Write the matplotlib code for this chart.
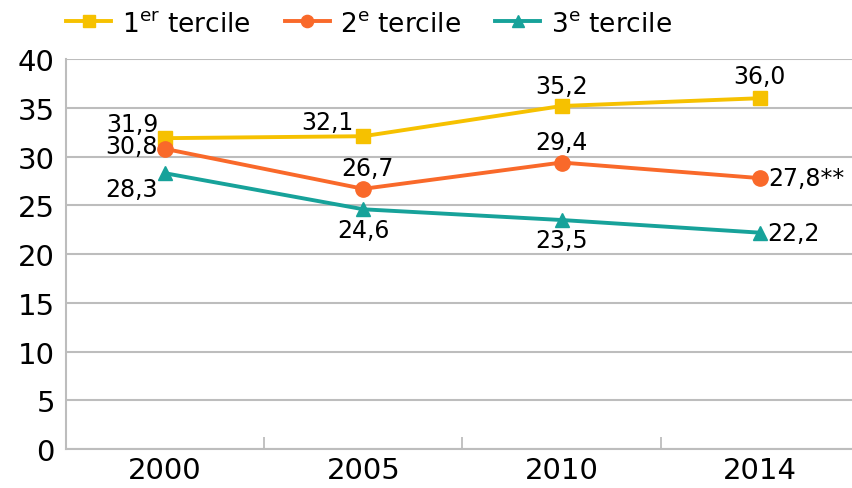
import matplotlib
matplotlib.use("Agg")
import matplotlib.pyplot as plt
from matplotlib.ticker import FixedLocator

plt.rcParams['font.family'] = ['DejaVu Sans']

years = ['2000', '2005', '2010', '2014']
tercile1 = [31.9, 32.1, 35.2, 36.0]
tercile2 = [30.8, 26.7, 29.4, 27.8]
tercile3 = [28.3, 24.6, 23.5, 22.2]
labels1 = ['31,9', '32,1', '35,2', '36,0']
labels2 = ['30,8', '26,7', '29,4', '27,8**']
labels3 = ['28,3', '24,6', '23,5', '22,2']

yellow = '#F6C100'
orange = '#F9692A'
teal = '#17A29A'
grid_c = '#BDBDBD'

fig = plt.figure(figsize=(8.53, 4.89), dpi=100)
ax = fig.add_axes([0.0774, 0.0798, 0.9226, 0.797])

x = list(range(len(years)))
ax.plot(x, tercile1, color=yellow, lw=2.8, marker='s', ms=10, label='1$^{\\mathregular{er}}$ tercile', zorder=3)
ax.plot(x, tercile2, color=orange, lw=2.8, marker='o', ms=11, label='2$^{\\mathregular{e}}$ tercile', zorder=3)
ax.plot(x, tercile3, color=teal, lw=2.8, marker='^', ms=10, label='3$^{\\mathregular{e}}$ tercile', zorder=3)

ax.set_xlim(-0.5, 3.47)
ax.set_ylim(0, 40)
ax.set_yticks(range(0, 41, 5))
ax.set_xticks(x)
ax.set_xticklabels(years)
ax.xaxis.set_minor_locator(FixedLocator([0.5, 1.5, 2.5]))
ax.tick_params(axis='both', which='major', length=0, labelsize=21, pad=8)
ax.tick_params(axis='x', which='minor', direction='in', length=9, width=1.3, color=grid_c)
ax.tick_params(axis='x', which='major', pad=5)
ax.yaxis.grid(True, color=grid_c, lw=1.5)
ax.set_axisbelow(True)
for s in ['top', 'right']:
    ax.spines[s].set_visible(False)
for s in ['left', 'bottom']:
    ax.spines[s].set_color(grid_c)
    ax.spines[s].set_linewidth(1.5)

fs = 17
# (offset in points, ha, va) for each label
pos1 = [((-5, 10), 'right', 'center'), ((-7, 10), 'right', 'center'), ((0, 6), 'center', 'bottom'), ((0, 7), 'center', 'bottom')]
pos2 = [((-5, 2), 'right', 'center'), ((3, 6), 'center', 'bottom'), ((0, 6), 'center', 'bottom'), ((6, 0), 'left', 'center')]
pos3 = [((-5, -11), 'right', 'center'), ((0, -6), 'center', 'top'), ((0, -6), 'center', 'top'), ((5, 0), 'left', 'center')]
for vals, labs, pos in [(tercile1, labels1, pos1), (tercile2, labels2, pos2), (tercile3, labels3, pos3)]:
    for i, (v, t) in enumerate(zip(vals, labs)):
        off, ha, va = pos[i]
        ax.annotate(t, (i, v), xytext=off, textcoords='offset points', ha=ha, va=va, fontsize=fs, color='black')

fig.legend(loc='upper left', bbox_to_anchor=(0.05, 1.025), ncol=3, frameon=False, fontsize=19,
           handlelength=1.7, columnspacing=1.3, handletextpad=0.4, markerscale=0.8)

fig.savefig('out.png', dpi=100)
